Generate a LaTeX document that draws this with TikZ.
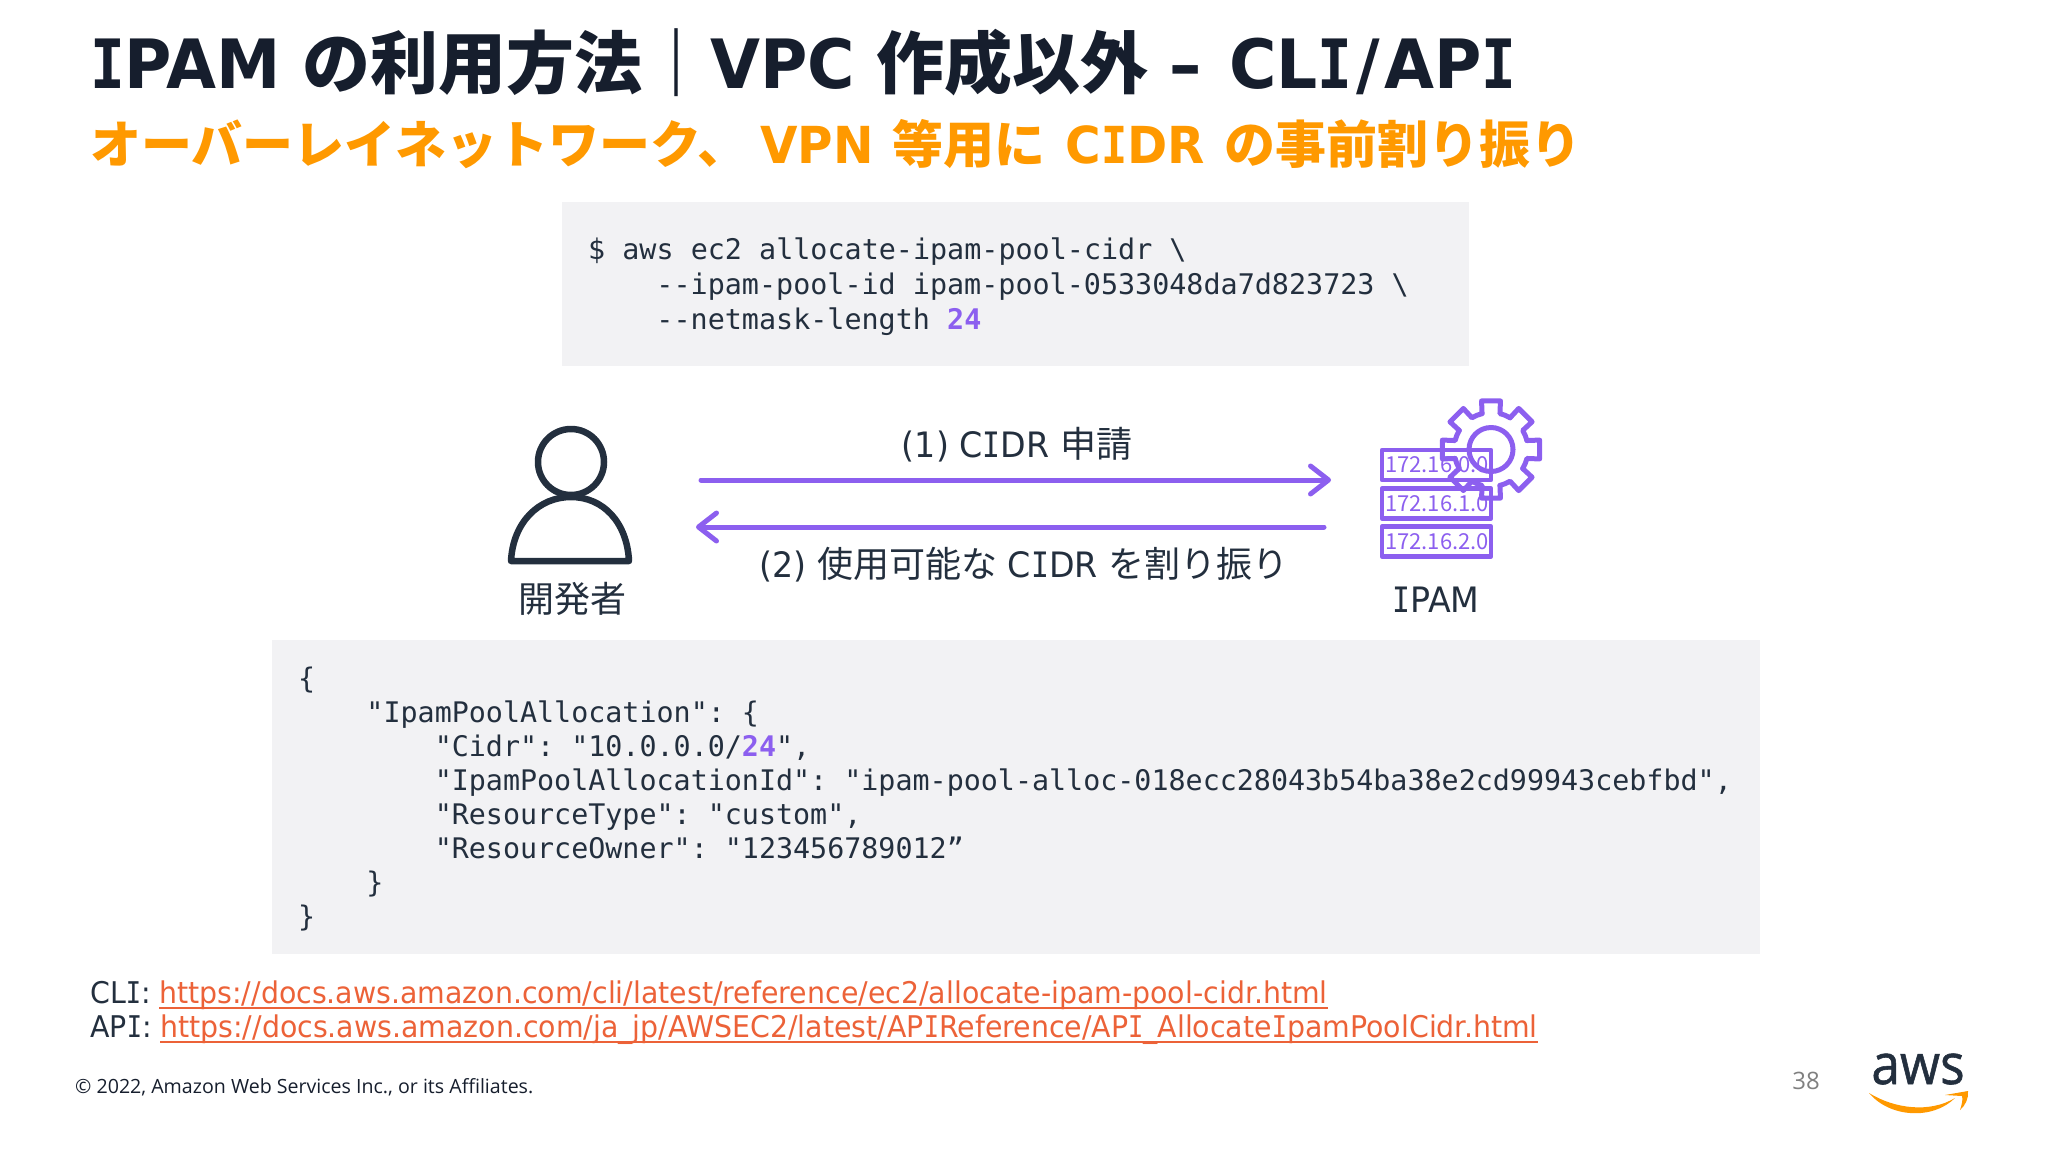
\documentclass[tikz,border=0pt]{standalone}
\usepackage{fontspec}
\usetikzlibrary{arrows.meta}
\setmainfont{DejaVu Sans}[UprightFeatures={FakeStretch=0.95}, BoldFeatures={FakeStretch=0.95, WordSpace=0.95}]
\newfontfamily\jpfont{Noto Sans CJK JP}
\newfontfamily\slabfont{DejaVu Sans Mono}[FakeStretch=0.85]
\newfontfamily\codefont{DejaVu Sans Mono}
\newfontfamily\footfont{Open Sans}
\newfontfamily\logofont{Open Sans}[FakeStretch=0.92, FakeBold=1]
\definecolor{awsnavy}{HTML}{232F3E}
\definecolor{titledark}{HTML}{161E2D}
\definecolor{awsorange}{HTML}{FF9900}
\definecolor{ipampurple}{HTML}{8C5FEF}
\definecolor{linkred}{HTML}{EC6238}
\definecolor{codegray}{HTML}{F2F2F4}
\newcommand{\ind}[1]{\hspace*{#1\dimexpr 17.07pt\relax}}
\newcommand{\hl}[1]{\textcolor{ipampurple}{\textbf{#1}}}
\newcommand{\jp}[1]{{\jpfont #1}}
\newcommand{\slabI}{{\slabfont I}}
\tikzset{
  txt/.style={inner sep=0pt, text=awsnavy},
  label35/.style={txt, anchor=base, font=\fontsize{35}{35}\selectfont},
  code/.style={txt, anchor=base west, align=left, font=\codefont\fontsize{28.35}{34}\selectfont\frenchspacing},
  msg/.style={draw=ipampurple, line width=5pt, line cap=round, -{Straight Barb[length=18pt,width=28pt,round]}},
  icon/.style={draw=ipampurple, line width=4.5pt, line join=round, line cap=round},
  addr/.style={inner sep=0pt, text=ipampurple, font=\jpfont\fontsize{22}{22}\selectfont},
  url/.style={inner sep=0pt, anchor=base west, text=linkred, font=\fontsize{29.9}{30}\selectfont},
  tag/.style={txt, anchor=base west, font=\fontsize{29.9}{30}\selectfont},
  urlline/.style={draw=linkred, line width=1.8pt},
  person/.style={draw=awsnavy, line width=6.5pt, line join=round}
}
\begin{document}
\begin{tikzpicture}[x=1pt, y=-1pt]
  \useasboundingbox (0,0) rectangle (2048,1152);
  \node[txt, anchor=base west, text=titledark, font=\bfseries\fontsize{68}{68}\selectfont] (title) at (90,88) {\slabI PAM \jp{の利用方法｜}VPC \jp{作成以外} – \hspace*{6pt}CL\slabI\hspace*{4pt}/\hspace*{4pt}AP\slabI};
  \node[txt, anchor=base west, text=awsorange, font=\bfseries\fontsize{51}{51}\selectfont] (subtitle) at (90,163) {\jp{オーバーレイネットワーク、}\hspace*{12pt}VPN \hspace*{3pt}\jp{等用に} \hspace*{4pt}C\slabI DR \hspace*{4pt}\jp{の事前割り振り}};
  % request box
  \fill[codegray] (562,202) rectangle (1469,366);
  \node[code, font=\codefont\fontsize{28.4}{35}\selectfont\frenchspacing] (cli) at (588,329) {\$ aws ec2 allocate-ipam-pool-cidr \textbackslash\\
    \ind{4}{-}{-}ipam-pool-id ipam-pool-0533048da7d823723 \textbackslash\\
    \ind{4}{-}{-}netmask-length \hl{24}};
  % developer
  \draw[person] (571,462) circle (33);
  \draw[person] (511,561) .. controls (513,522) and (539,497) .. (571,497) .. controls (603,497) and (627,522) .. (629,561) -- cycle;
  \node[label35] (dev) at (572,612) {\jp{\fontsize{36}{36}\selectfont 開発者}};
  % ipam
  \foreach \y/\a in {465/172.16.0.0, 503.5/172.16.1.0, 541.5/172.16.2.0} {
    \node[addr] (addr\y) at (1437,\y) {\a};
    \draw[icon] (1382,\y-15) rectangle (1491,\y+15);
  }
  \begin{scope}[shift={(1491,449.5)}]
    \foreach \a in {0,45,...,315} {
      \draw[icon, line width=5pt] (\a-14:37) -- (\a-11:49.5) -- (\a+11:49.5) -- (\a+14:37) arc[start angle=\a+14, end angle=\a+31, radius=37];
    }
    \draw[icon, line width=5pt] (0,0) circle (22);
  \end{scope}
  \node[label35] (ipam) at (1436,612) {\slabI PAM};
  % messages
  \coordinate (devout) at (701,480);
  \coordinate (ipamin) at (1331,480);
  \coordinate (ipamout) at (1324,527);
  \coordinate (devin) at (696,527);
  \draw[msg] (devout) -- (ipamin);
  \draw[msg] (ipamout) -- (devin);
  \node[label35] (req) at (1017,457) {(1) C\slabI DR \jp{\fontsize{36}{36}\selectfont 申請}};
  \node[label35] (res) at (1024,577) {(2) \jp{\fontsize{36}{36}\selectfont 使用可能な} C\slabI DR \jp{\fontsize{36}{36}\selectfont を割り振り}};
  % response box
  \fill[codegray] (272,640) rectangle (1760,954);
  \node[code] (json) at (298,926) {\{\\
    \ind{4}"IpamPoolAllocation": \{\\
    \ind{8}"Cidr": "10.0.0.0/\hl{24}",\\
    \ind{8}"IpamPoolAllocationId": "ipam-pool-alloc-018ecc28043b54ba38e2cd99943cebfbd",\\
    \ind{8}"ResourceType": "custom",\\
    \ind{8}"ResourceOwner": "123456789012”\\
    \ind{4}\}\\
    \}};
  % links
  \node[tag] (clitag) at (90,1003) {CL\slabI:};
  \node[tag] (apitag) at (90,1037) {AP\slabI:};
  \node[url] (cliurl) at (159,1003) {https://docs.aws.amazon.com/cli/latest/reference/ec2/allocate-ipam-pool-cidr.html};
  \node[url] (apiurl) at (160,1037) {https://docs.aws.amazon.com/ja\_jp/AWSEC2/latest/AP\slabI Reference/AP\slabI\_Allocate\slabI pamPoolCidr.html};
  \draw[urlline] ([yshift=-5pt]cliurl.base west) -- ([yshift=-5pt]cliurl.base east);
  \draw[urlline] ([yshift=-5pt]apiurl.base west) -- ([yshift=-5pt]apiurl.base east);
  % footer
  \node[txt, anchor=base west, text=titledark, font=\footfont\fontsize{19.6}{20}\selectfont] (copy) at (75,1093) {© 2022, Amazon Web Services Inc., or its Affiliates.};
  \node[txt, text=gray, font=\footfont\fontsize{24}{24}\selectfont] (page) at (1806,1081) {38};
  \node[txt, anchor=base, font=\logofont\fontsize{56}{56}\selectfont] (aws) at (1918,1084) {aws};
  \fill[awsorange] (1869,1093) .. controls (1895,1109) and (1930,1113) .. (1955,1098) .. controls (1933,1120) and (1890,1118) .. cycle;
  \fill[awsorange] (1945,1095) -- (1968,1091) .. controls (1969,1098) and (1965,1106) .. (1960,1110) .. controls (1962,1104) and (1963,1099) .. (1962,1096) -- cycle;
\end{tikzpicture}
\end{document}
